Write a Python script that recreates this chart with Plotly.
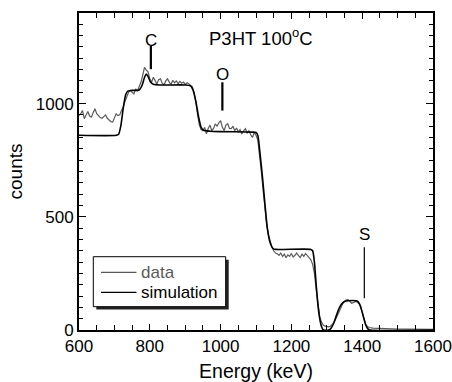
import plotly.graph_objects as go

# ---------------- data ----------------
data_energy = [600, 605, 610, 615, 620, 625, 630, 635, 640, 645, 650, 655, 660, 665, 670, 675, 680, 685, 690, 695,
               700, 705, 710, 715, 720, 725, 730, 735, 740, 745, 750, 755, 760, 765, 770, 775, 780, 785, 790, 795,
               800, 805, 810, 815, 820, 825, 830, 835, 840, 845, 850, 855, 860, 865, 870, 875, 880, 885, 890, 895,
               900, 905, 910, 915, 920, 925, 930, 935, 940, 945, 950, 955, 960, 965, 970, 975, 980, 985, 990, 995,
               1000, 1005, 1010, 1015, 1020, 1025, 1030, 1035, 1040, 1045, 1050, 1055, 1060, 1065, 1070, 1075, 1080, 1085, 1090, 1095,
               1100, 1105, 1110, 1115, 1120, 1125, 1130, 1135, 1140, 1145, 1150, 1155, 1160, 1165, 1170, 1175, 1180, 1185, 1190, 1195,
               1200, 1205, 1210, 1215, 1220, 1225, 1230, 1235, 1240, 1245, 1250, 1255, 1260, 1265, 1270, 1275, 1280, 1285, 1290, 1295,
               1300, 1305, 1310, 1315, 1320, 1325, 1330, 1335, 1340, 1345, 1350, 1355, 1360, 1365, 1370, 1375, 1380, 1385, 1390, 1395,
               1400, 1405, 1410, 1415, 1420, 1430, 1440, 1450, 1460, 1470, 1480, 1490, 1500, 1520, 1540, 1560, 1580, 1600]
data_counts = [947, 955, 969, 933, 950, 965, 945, 940, 960, 977, 955, 947, 938, 935, 945, 950, 935, 925, 920, 918,
               940, 955, 947, 950, 969, 985, 1010, 1035, 1050, 1057, 1048, 1043, 1065, 1055, 1075, 1094, 1125, 1160, 1148, 1140,
               1110, 1094, 1116, 1100, 1087, 1105, 1109, 1090, 1082, 1100, 1109, 1095, 1085, 1103, 1092, 1100, 1088, 1098, 1090, 1095,
               1085, 1092, 1088, 1080, 1075, 1050, 1010, 950, 905, 885, 880, 895, 866, 890, 905, 880, 890, 910, 900, 915,
               925, 895, 881, 905, 911, 890, 889, 900, 880, 892, 875, 885, 866, 880, 889, 870, 880, 862, 850, 872,
               860, 840, 780, 700, 620, 540, 470, 420, 385, 365, 350, 340, 337, 330, 340, 325, 335, 319, 332, 325,
               338, 322, 330, 340, 328, 320, 335, 325, 338, 330, 320, 310, 290, 250, 180, 110, 60, 35, 22, 17,
               15, 14, 16, 22, 32, 48, 66, 85, 102, 116, 126, 133, 134, 126, 118, 121, 126, 124, 118, 105,
               80, 50, 25, 15, 11, 8, 7, 6, 5, 5, 6, 5, 4, 4, 3, 4, 3, 3]

sim_energy = [600, 705, 712, 718, 725, 732, 738, 745, 770, 778, 785, 790, 795, 802, 810, 830, 900, 915, 922, 930,
              938, 945, 952, 970, 1000, 1090, 1100, 1105, 1110, 1118, 1125, 1132, 1140, 1148, 1155, 1255, 1260, 1265, 1270, 1275,
              1280, 1285, 1290, 1305, 1312, 1320, 1328, 1336, 1344, 1352, 1360, 1386, 1392, 1398, 1404, 1410, 1416, 1422, 1600]
sim_counts = [860, 860, 865, 900, 980, 1040, 1055, 1058, 1060, 1080, 1115, 1130, 1120, 1095, 1085, 1082, 1082, 1078, 1060, 1010,
              940, 895, 882, 878, 876, 874, 872, 860, 800, 680, 560, 450, 385, 360, 356, 356, 350, 300, 200, 110,
              50, 15, 0, 0, 8, 32, 68, 100, 119, 127, 129, 128, 116, 90, 55, 22, 5, 0, 0]

series_names = ["data", "simulation"]
element_labels = ["C", "O", "S"]
element_energy = [803, 1005, 1406]
element_line_lo = [1152, 969, 140]
element_line_hi = [1255, 1094, 365]
element_label_y = [1280, 1130, 420]
title_text = "P3HT 100<sup>o</sup>C"

FONT = "Liberation Sans, Arial, Helvetica, sans-serif"
DATA_COLOR = "#5a5a5a"

fig = go.Figure()
fig.add_trace(go.Scatter(x=data_energy, y=data_counts, mode="lines", name=series_names[0],
                         line=dict(color=DATA_COLOR, width=1.2), showlegend=False))
fig.add_trace(go.Scatter(x=sim_energy, y=sim_counts, mode="lines", name=series_names[1],
                         line=dict(color="black", width=1.6, shape="spline", smoothing=0.6), showlegend=False))

shapes = []
annotations = []
# element marker lines and labels
for lab, e, lo, hi, ly, w in zip(element_labels, element_energy, element_line_lo, element_line_hi,
                                 element_label_y, [2.2, 2.2, 1.2]):
    shapes.append(dict(type="line", xref="x", yref="y", x0=e, x1=e, y0=lo, y1=hi,
                       line=dict(color="black", width=w)))
    annotations.append(dict(x=e, y=ly, xref="x", yref="y", text=lab, showarrow=False,
                            font=dict(family=FONT, size=17, color="black")))

annotations.append(dict(x=1115, y=1296, xref="x", yref="y", text=title_text, showarrow=False,
                        font=dict(family=FONT, size=18.5, color="black")))

# custom legend box (paper coords = plot area)
shapes.append(dict(type="rect", xref="paper", yref="paper", x0=0.0489, x1=0.4229, y0=0.0644, y1=0.2218,
                   fillcolor="#222222", line=dict(width=0), layer="above"))
shapes.append(dict(type="rect", xref="paper", yref="paper", x0=0.0404, x1=0.4144, y0=0.0735, y1=0.2312,
                   fillcolor="white", line=dict(color="black", width=1), layer="above"))
legend_y = [0.182, 0.1189]
legend_colors = [DATA_COLOR, "black"]
for name, ly, col in zip(series_names, legend_y, legend_colors):
    shapes.append(dict(type="line", xref="paper", yref="paper", x0=0.0621, x1=0.1624, y0=ly, y1=ly,
                       line=dict(color=col, width=1.2), layer="above"))
    annotations.append(dict(x=0.1695, y=ly, xref="paper", yref="paper", text=name, showarrow=False,
                            xanchor="left", yanchor="middle",
                            font=dict(family=FONT, size=17, color=col)))

fig.update_layout(
    width=452, height=382,
    margin=dict(l=79, r=19, t=13, b=52),
    paper_bgcolor="white", plot_bgcolor="white",
    font=dict(family=FONT, size=17, color="black"),
    shapes=shapes, annotations=annotations,
    showlegend=False,
)
fig.update_xaxes(range=[600, 1600], dtick=200, tick0=600, ticks="inside", ticklen=6, tickwidth=1,
                 tickcolor="black", showline=True, linecolor="black", linewidth=2, mirror="ticks",
                 showgrid=False, zeroline=False, automargin=False,
                 minor=dict(dtick=50, tick0=600, ticks="inside", ticklen=5, tickcolor="black", showgrid=False),
                 title=dict(text="Energy (keV)", font=dict(family=FONT, size=19.5), standoff=9),
                 tickfont=dict(family=FONT, size=17))
fig.update_yaxes(range=[0, 1400], dtick=500, tick0=0, ticks="inside", ticklen=7, tickwidth=1,
                 tickcolor="black", showline=True, linecolor="black", linewidth=2, mirror="ticks",
                 showgrid=False, zeroline=False, automargin=False,
                 minor=dict(dtick=50, tick0=0, ticks="inside", ticklen=4, tickcolor="black", showgrid=False),
                 title=dict(text="counts", font=dict(family=FONT, size=19), standoff=8),
                 tickfont=dict(family=FONT, size=17))

fig.write_html("out.html")
